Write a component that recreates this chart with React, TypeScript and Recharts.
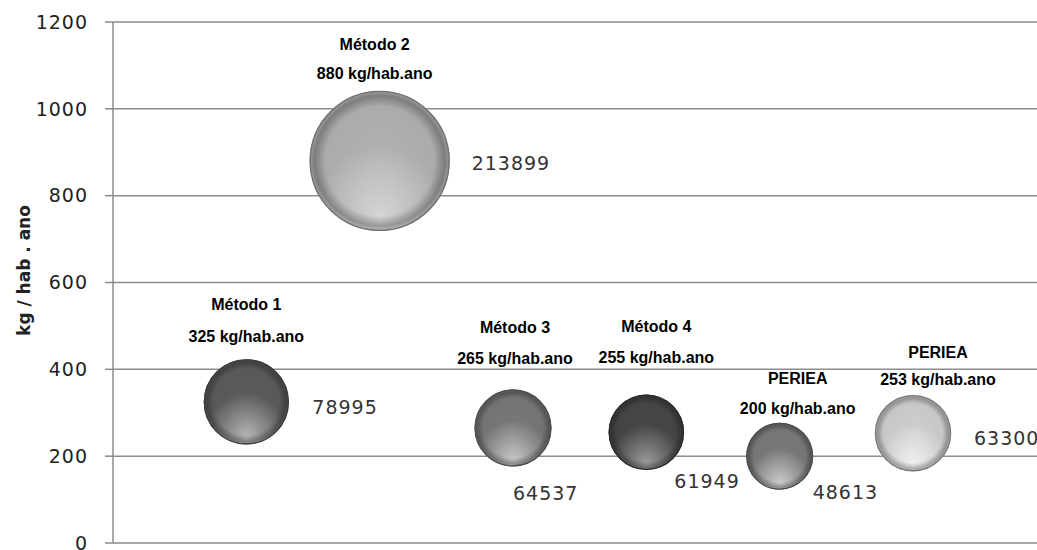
import React from 'react';
import { ScatterChart, Scatter, XAxis, YAxis, ZAxis, CartesianGrid } from 'recharts';

// ---- data ----
const CATEGORIES = ['Método 1', 'Método 2', 'Método 3', 'Método 4', 'PERIEA', 'PERIEA'];
const X_POSITIONS = [1, 2, 3, 4, 5, 6];
const KG_HAB_ANO = [325, 880, 265, 255, 200, 253];
const POPULATION = [78995, 213899, 64537, 61949, 48613, 63300];
const Y_TICKS = [0, 200, 400, 600, 800, 1000, 1200];
const Y_TITLE = 'kg / hab . ano';
const UNIT = 'kg/hab.ano';

// ---- styles (kept separate from data) ----
const BUBBLE_COLORS = [
  { hi: '#c4c4c4', base: '#5c5c5c', rim: '#3a3a3a' },
  { hi: '#e2e2e2', base: '#b2b2b2', rim: '#707070' },
  { hi: '#d4d4d4', base: '#787878', rim: '#4a4a4a' },
  { hi: '#a8a8a8', base: '#474747', rim: '#2a2a2a' },
  { hi: '#dcdcdc', base: '#7a7a7a', rim: '#4a4a4a' },
  { hi: '#ffffff', base: '#cfcfcf', rim: '#7a7a7a' },
];
// label offsets relative to bubble centre (px): [dx, line1 dy, line2 dy]
const TITLE_OFFSETS = [
  [0, -92, -60],
  [-5, -111, -82],
  [2, -95, -64],
  [10, -100, -69],
  [18, -72, -42],
  [25, -75, -48],
];
// value label offsets: [dx (left edge), dy (baseline)]
const VALUE_OFFSETS = [
  [66, 12],
  [92, 9],
  [0, 72],
  [28, 56],
  [33, 43],
  [61, 12],
];

const rows = CATEGORIES.map((name, i) => ({
  i,
  name,
  x: X_POSITIONS[i],
  y: KG_HAB_ANO[i],
  z: POPULATION[i],
}));

const MAX_R = 70;
const BOLD_FONT = "'Liberation Sans', Arial, sans-serif";
const NUM_FONT = "'DejaVu Sans', Verdana, sans-serif";

const Bubble = (props: any) => {
  const { cx, cy, width, payload } = props;
  const i = payload.i;
  const r = width / 2;
  const c = BUBBLE_COLORS[i];
  const t = TITLE_OFFSETS[i];
  const v = VALUE_OFFSETS[i];
  return (
    <g>
      <circle cx={cx} cy={cy} r={r} fill={c.base} />
      <circle cx={cx} cy={cy} r={r} fill={`url(#hl${i})`} />
      <circle cx={cx} cy={cy} r={r} fill="url(#edge)" />
      <circle cx={cx} cy={cy} r={r - 0.5} fill="none" stroke={c.rim} strokeWidth={1.3} />
      <text x={cx + t[0]} y={cy + t[1]} textAnchor="middle" fontFamily={BOLD_FONT} fontWeight="bold" fontSize={16} fill="#000">
        {payload.name}
      </text>
      <text x={cx + t[0]} y={cy + t[2]} textAnchor="middle" fontFamily={BOLD_FONT} fontWeight="bold" fontSize={16} fill="#000">
        {`${payload.y} ${UNIT}`}
      </text>
      <text x={cx + v[0]} y={cy + v[1]} textAnchor="start" fontFamily={NUM_FONT} fontSize={19} letterSpacing={1} fill="#333">
        {payload.z}
      </text>
    </g>
  );
};

const AxisTitle = (props: any) => {
  const vb = props.viewBox || { x: 0, y: 22, width: 113, height: 521 };
  const x = 24;
  const y = vb.y + vb.height / 2 - 12;
  return (
    <text
      x={x}
      y={y}
      transform={`rotate(-90, ${x}, ${y})`}
      textAnchor="middle"
      dominantBaseline="central"
      fontFamily={NUM_FONT}
      fontWeight="bold"
      fontSize={17}
      fill="#222"
    >
      {Y_TITLE}
    </text>
  );
};

export default function App() {
  return (
    <div style={{ position: 'absolute', left: 0, top: 0, width: 1037, height: 550, background: '#fff' }}>
      <ScatterChart width={1037} height={550} margin={{ top: 22, right: 0, bottom: 7, left: 0 }}>
        <defs>
          {BUBBLE_COLORS.map((c, i) => (
            <radialGradient key={i} id={`hl${i}`} cx="50%" cy="88%" r="48%" fx="50%" fy="92%">
              <stop offset="0%" stopColor={c.hi} stopOpacity={0.95} />
              <stop offset="45%" stopColor={c.hi} stopOpacity={0.5} />
              <stop offset="100%" stopColor={c.hi} stopOpacity={0} />
            </radialGradient>
          ))}
          <radialGradient id="edge" cx="50%" cy="50%" r="50%">
            <stop offset="0%" stopColor="#000" stopOpacity={0} />
            <stop offset="78%" stopColor="#000" stopOpacity={0.04} />
            <stop offset="93%" stopColor="#000" stopOpacity={0.3} />
            <stop offset="100%" stopColor="#000" stopOpacity={0.12} />
          </radialGradient>
        </defs>
        <CartesianGrid horizontal vertical={false} stroke="#8c8c8c" strokeWidth={1.5} />
        <XAxis type="number" dataKey="x" domain={[0, 6.93]} hide />
        <YAxis
          type="number"
          dataKey="y"
          domain={[0, 1200]}
          ticks={Y_TICKS}
          width={113}
          interval={0}
          tickSize={8}
          tickMargin={17}
          axisLine={{ stroke: '#8c8c8c', strokeWidth: 1.5 }}
          tickLine={{ stroke: '#8c8c8c', strokeWidth: 1.5 }}
          tick={{ fontFamily: NUM_FONT, fontSize: 19, fill: '#222', letterSpacing: 1 }}
          label={<AxisTitle />}
        />
        <ZAxis type="number" dataKey="z" domain={[0, 213899]} range={[0, Math.PI * MAX_R * MAX_R]} />
        <Scatter data={rows} shape={<Bubble />} isAnimationActive={false} />
      </ScatterChart>
    </div>
  );
}
